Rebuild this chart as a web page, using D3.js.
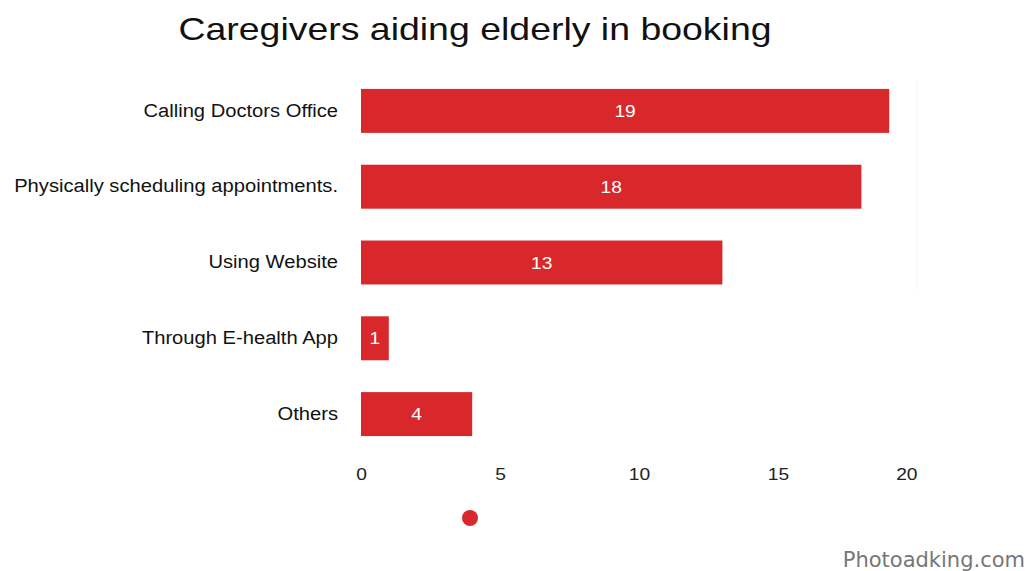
<!DOCTYPE html>
<html>
<head>
<meta charset="utf-8">
<script src="https://cdn.jsdelivr.net/npm/d3@7"></script>
<style>
  html, body { margin: 0; padding: 0; background: #fff; }
  svg { display: block; font-family: "Liberation Sans", Arial, sans-serif; }
</style>
</head>
<body>
<svg id="chart" width="1030" height="571"></svg>
<script>
// Booking methods and the number of caregivers using each
const categories = ["Calling Doctors Office", "Physically scheduling appointments.", "Using Website", "Through E-health App", "Others"];
const counts = [19, 18, 13, 1, 4];
const xTicks = [0, 5, 10, 15, 20];

const svg = d3.select("#chart");
const barColor = "#d8282c";

// Widen a text selection horizontally around its anchor
function widen(sel, stretch = 1.13) {
  sel.each(function () {
    const w = this.getComputedTextLength();
    d3.select(this).attr("textLength", w * stretch).attr("lengthAdjust", "spacingAndGlyphs");
  });
}

const x = d3.scaleLinear().domain([0, 20]).range([361, 917]);
const y = d3.scaleBand().domain(categories).range([73, 452]).paddingInner(0.42).paddingOuter(0.21);

// Title
svg.append("text")
  .attr("x", 475).attr("y", 40)
  .attr("text-anchor", "middle")
  .attr("font-size", 32)
  .attr("fill", "#111")
  .text("Caregivers aiding elderly in booking")
  .call(widen, 1.17);

// Faint boundary line at the axis maximum
svg.append("line")
  .attr("x1", x(20)).attr("x2", x(20))
  .attr("y1", 80).attr("y2", 290)
  .attr("stroke", "#f2f2f2").attr("stroke-width", 1);

// Bars
svg.append("g").selectAll("rect")
  .data(categories)
  .join("rect")
  .attr("x", x(0))
  .attr("y", d => y(d))
  .attr("width", (d, i) => x(counts[i]) - x(0))
  .attr("height", y.bandwidth())
  .attr("fill", barColor);

// Value labels inside the bars
svg.append("g").selectAll("text")
  .data(categories)
  .join("text")
  .attr("x", (d, i) => (x(0) + x(counts[i])) / 2)
  .attr("y", d => y(d) + y.bandwidth() / 2)
  .attr("dy", "0.36em")
  .attr("text-anchor", "middle")
  .attr("font-size", 17)
  .attr("fill", "#fff")
  .text((d, i) => counts[i])
  .call(widen);

// Category axis
const yAxis = svg.append("g")
  .attr("transform", `translate(${x(0) - 23},0)`)
  .call(d3.axisLeft(y).tickSize(0).tickPadding(0));
yAxis.select(".domain").remove();
yAxis.selectAll("text").attr("font-size", 18).attr("fill", "#111")
  .attr("font-family", "'Liberation Sans', Arial, sans-serif")
  .call(widen, 1.12);

// Value axis
const xAxis = svg.append("g")
  .attr("transform", "translate(0,460)")
  .call(d3.axisBottom(x).tickValues(xTicks).tickSize(0).tickPadding(8));
xAxis.select(".domain").remove();
xAxis.selectAll("text").attr("font-size", 17).attr("fill", "#222")
  .attr("font-family", "'Liberation Sans', Arial, sans-serif")
  .attr("text-anchor", d => d === 20 ? "end" : "middle")
  .call(widen);

// Legend marker
svg.append("circle")
  .attr("cx", 470).attr("cy", 518).attr("r", 8)
  .attr("fill", barColor);

// Watermark
svg.append("text")
  .attr("x", 1025).attr("y", 567)
  .attr("text-anchor", "end")
  .attr("font-family", "'DejaVu Sans', sans-serif")
  .attr("font-size", 21)
  .attr("fill", "#777")
  .text("Photoadking.com");
</script>
</body>
</html>
